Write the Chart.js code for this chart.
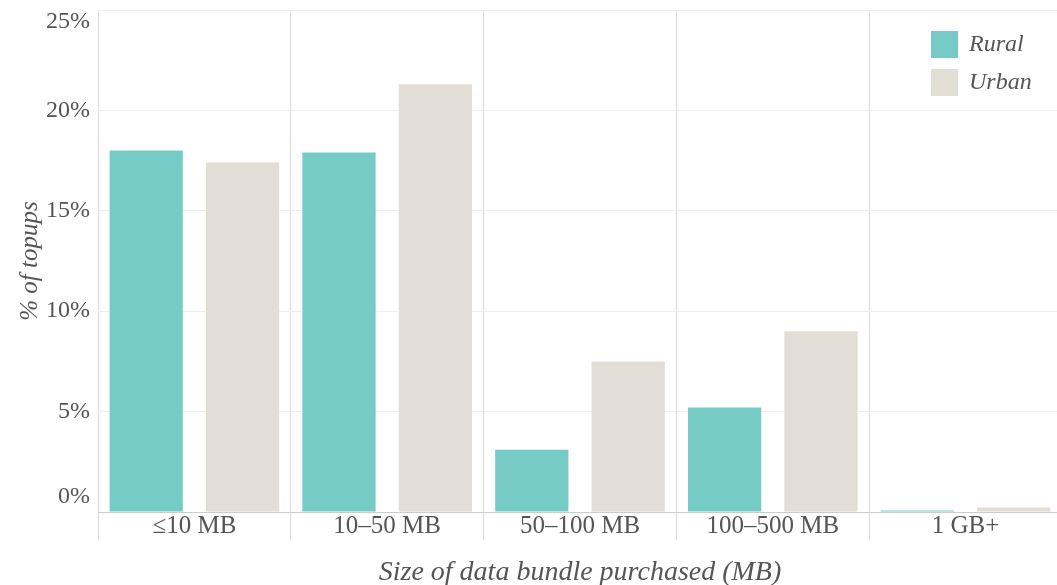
<!DOCTYPE html>
<html>
<head>
<meta charset="utf-8">
<script src="https://cdn.jsdelivr.net/npm/chart.js@4"></script>
<style>
  body { margin: 0; overflow: hidden; background: #fff; }
  #wrap { width: 1062px; height: 585px; position: relative; }
</style>
</head>
<body>
<div id="wrap"><canvas id="myChart"></canvas></div>
<script>
// categories and values
const categories = ["≤10 MB", "10–50 MB", "50–100 MB", "100–500 MB", "1 GB+"];
const rural = [18.0, 17.9, 3.1, 5.2, 0.08];
const urban = [17.4, 21.3, 7.5, 9.0, 0.22];
const yTicks = [0, 5, 10, 15, 20, 25];

const textColor = "#555555";
const serif = "'Liberation Serif', 'DejaVu Serif', serif";

// y labels, y title and legend drawn by hand
const extras = {
  id: "extras",
  afterDraw(chart) {
    const ctx = chart.ctx;
    const y = chart.scales.y;
    const area = chart.chartArea;
    ctx.save();
    ctx.fillStyle = textColor;

    // tick labels, kept inside the plot at the ends
    ctx.font = "24px " + serif;
    ctx.textAlign = "right";
    ctx.textBaseline = "middle";
    yTicks.forEach(function(v){
      let py = y.getPixelForValue(v);
      py = Math.min(Math.max(py, area.top + 12), area.bottom - 15);
      ctx.fillText(v + "%", 90, py);
    });

    // axis title
    ctx.save();
    ctx.translate(30, (area.top + area.bottom) / 2);
    ctx.rotate(-Math.PI / 2);
    ctx.font = "italic 25px " + serif;
    ctx.textAlign = "center";
    ctx.fillText("% of topups", 0, 0);
    ctx.restore();

    // legend
    ctx.font = "italic 24px " + serif;
    ctx.textAlign = "left";
    chart.data.datasets.forEach(function(ds, i){
      const top = 31 + i * 38;
      ctx.fillStyle = ds.backgroundColor;
      ctx.fillRect(931, top, 27, 27);
      ctx.fillStyle = textColor;
      ctx.fillText(ds.label, 969, top + 14);
    });
    ctx.restore();
  }
};

const chartdata = {
  labels: categories,
  datasets: [
    { label: "Rural", data: rural, backgroundColor: "#76cbc7" },
    { label: "Urban", data: urban, backgroundColor: "#e2ded6" }
  ]
};

var ctx = document.getElementById("myChart").getContext("2d");
var myChart = new Chart(ctx, {
  type: "bar",
  data: chartdata,
  plugins: [extras],
  options: {
    responsive: true,
    maintainAspectRatio: false,
    animation: false,
    layout: { padding: { top: 10, right: 0, left: 0, bottom: 0 } },
    datasets: { bar: { categoryPercentage: 1.0, barPercentage: 0.76 } },
    plugins: {
      legend: { display: false },
      tooltip: { enabled: false }
    },
    scales: {
      x: {
        grid: { offset: true, color: "#dcdcdc", tickLength: 28, lineWidth: 1 },
        border: { color: "#cccccc" },
        ticks: {
          color: textColor,
          font: { family: serif, size: 25 },
          padding: -29,
          maxRotation: 0
        },
        title: {
          display: true,
          text: "Size of data bundle purchased (MB)",
          color: textColor,
          font: { family: serif, size: 28, style: "italic" },
          padding: { top: 0, bottom: -4 }
        },
        afterFit: function(scale){ scale.height = 73; }
      },
      y: {
        min: 0,
        max: 25,
        ticks: { display: false, stepSize: 5 },
        grid: { color: "#eeeeee", drawTicks: false },
        border: { display: false },
        afterFit: function(scale){ scale.width = 98; }
      }
    }
  }
});
</script>
</body>
</html>
